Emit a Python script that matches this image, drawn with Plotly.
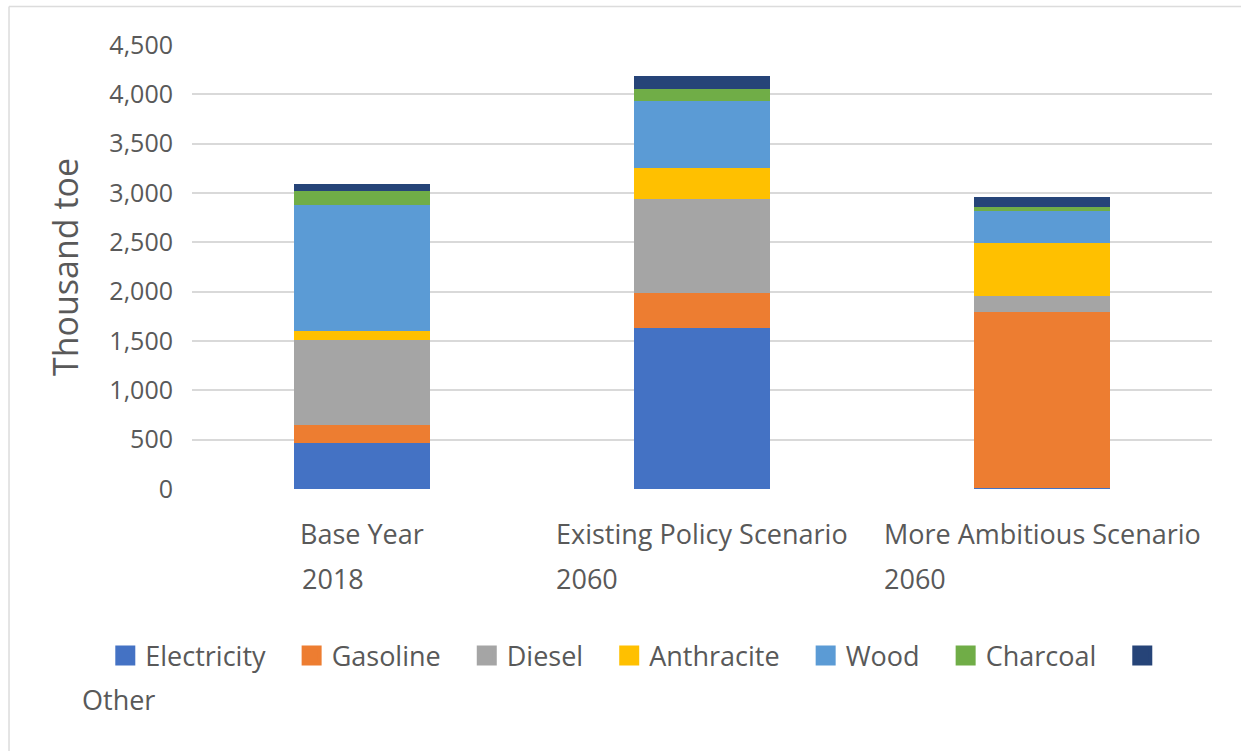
import plotly.graph_objects as go

# Final energy consumption by fuel (thousand toe)
categories = ["Base Year 2018", "Existing Policy Scenario 2060", "More Ambitious Scenario 2060"]
cat_line1 = ["Base Year", "Existing Policy Scenario", "More Ambitious Scenario"]
cat_line2 = ["2018", "2060", "2060"]

electricity = [463, 1635, 10]
gasoline = [186, 348, 1787]
diesel = [861, 953, 159]
anthracite = [91, 320, 540]
wood = [1277, 676, 325]
charcoal = [145, 119, 34]
other = [68, 135, 107]

series = [
    ("Electricity", electricity, "#4472C4"),
    ("Gasoline", gasoline, "#ED7D31"),
    ("Diesel", diesel, "#A5A5A5"),
    ("Anthracite", anthracite, "#FFC000"),
    ("Wood", wood, "#5B9BD5"),
    ("Charcoal", charcoal, "#70AD47"),
    ("Other", other, "#264478"),
]
# the last legend label wraps onto its own line under the swatch row
WRAPPED_LABEL = "Other"

y_ticks = [0, 500, 1000, 1500, 2000, 2500, 3000, 3500, 4000, 4500]
y_tick_text = ["0", "500", "1,000", "1,500", "2,000", "2,500", "3,000", "3,500", "4,000", "4,500"]

FONT = "Open Sans"
TEXT = "#595959"
LABEL_SIZE = 27
# half width of the first label line, so the second line starts at the same left edge
LABEL_HALF_W = [62, 148, 160]
# extra trailing space after each legend label
LEGEND_PAD = "\u00a0\u00a0\u00a0"

fig = go.Figure()
for name, vals, color in series:
    fig.add_trace(go.Bar(
        name=name, x=categories, y=vals,
        marker=dict(color=color, line=dict(width=0)),
        showlegend=False,
    ))
    # legend entry with a larger square swatch
    label = "\u00a0" if name == WRAPPED_LABEL else name + LEGEND_PAD
    fig.add_trace(go.Scatter(
        name=label, x=[None], y=[None], mode="markers",
        marker=dict(symbol="square", size=16, color=color,
                    line=dict(color=color, width=4)),
        showlegend=True, hoverinfo="skip",
    ))

# wrapped legend label on the second legend row
fig.add_annotation(
    text=WRAPPED_LABEL, xref="paper", yref="paper", x=-0.1098, y=-0.475,
    xanchor="left", yanchor="middle", showarrow=False,
    font=dict(family=FONT, size=LABEL_SIZE, color=TEXT),
)

for cat, l1, l2, hw in zip(categories, cat_line1, cat_line2, LABEL_HALF_W):
    fig.add_annotation(
        x=cat, xref="x", y=0, yref="paper", text=l1, showarrow=False,
        xanchor="center", yanchor="top", yshift=-24,
        font=dict(family=FONT, size=LABEL_SIZE, color=TEXT),
    )
    fig.add_annotation(
        x=cat, xref="x", y=0, yref="paper", text=l2, showarrow=False,
        xanchor="left", yanchor="top", yshift=-69, xshift=-hw,
        font=dict(family=FONT, size=LABEL_SIZE, color=TEXT),
    )

# light chart-area frame (top and left edges)
frame = dict(type="line", xref="paper", yref="paper",
             line=dict(color="#DCDCDC", width=1.5), layer="below")
fig.add_shape(x0=-0.1794, x1=1.03, y0=1.0867, y1=1.0867, **frame)
fig.add_shape(x0=-0.1794, x1=-0.1794, y0=1.0867, y1=-0.6, **frame)

fig.update_layout(
    barmode="stack",
    bargap=0.6,
    width=1241, height=751,
    margin=dict(l=192, r=29, t=45, b=262, autoexpand=False),
    paper_bgcolor="white", plot_bgcolor="white",
    font=dict(family=FONT, size=LABEL_SIZE, color=TEXT),
    showlegend=True,
    legend=dict(
        orientation="h", x=-0.085, xanchor="left",
        y=-0.321, yanchor="top", traceorder="normal",
        font=dict(family=FONT, size=LABEL_SIZE, color=TEXT),
        itemsizing="trace",
    ),
    xaxis=dict(showticklabels=False, showline=False, showgrid=False, zeroline=False),
    yaxis=dict(
        range=[0, 4500], tickvals=y_ticks, ticktext=y_tick_text,
        showgrid=True, gridcolor="#D9D9D9", gridwidth=2,
        zeroline=False, showline=False, ticklabelstandoff=18,
        tickfont=dict(family=FONT, size=25, color=TEXT),
        title=dict(text="Thousand toe", standoff=20,
                   font=dict(family=FONT, size=34, color=TEXT)),
    ),
)

fig.write_html("out.html")
